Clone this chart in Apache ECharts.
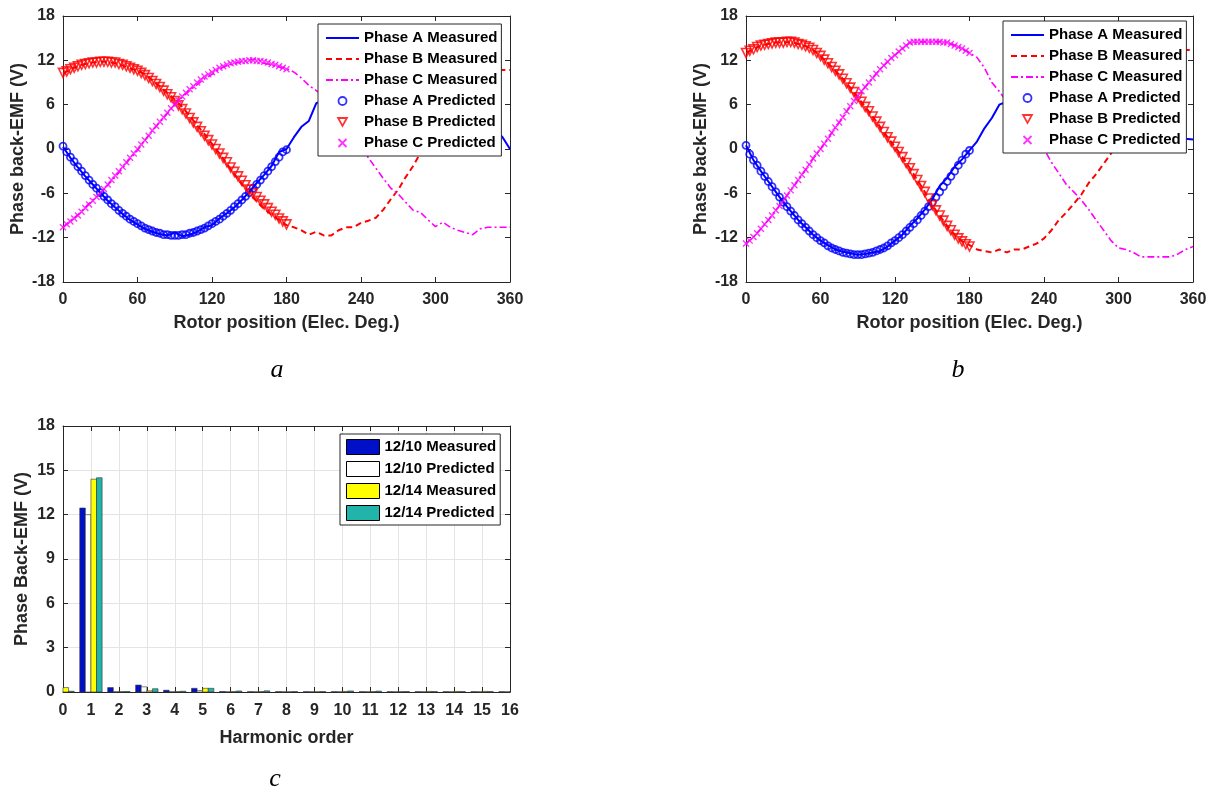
<!DOCTYPE html>
<html>
<head>
<meta charset="utf-8">
<script src="https://cdn.jsdelivr.net/npm/echarts@6/dist/echarts.min.js"></script>
<style>
  html, body { margin: 0; padding: 0; background: #fff; }
  #chart { width: 1215px; height: 792px; }
</style>
</head>
<body>
<div id="chart"></div>
<script>
// rotor angle of the samples (elec. deg.)
var measDeg = [0, 6, 12, 18, 24, 30, 36, 42, 48, 54, 60, 66, 72, 78, 84, 90, 96, 102, 108, 114,
  120, 126, 132, 138, 144, 150, 156, 162, 168, 174, 180, 186, 192, 198, 204, 210, 216, 222, 228, 234,
  240, 246, 252, 258, 264, 270, 276, 282, 288, 294, 300, 306, 312, 318, 324, 330, 336, 342, 348, 354, 360];
var predDeg = [0, 3, 6, 9, 12, 15, 18, 21, 24, 27, 30, 33, 36, 39, 42, 45, 48, 51, 54, 57,
  60, 63, 66, 69, 72, 75, 78, 81, 84, 87, 90, 93, 96, 99, 102, 105, 108, 111, 114, 117,
  120, 123, 126, 129, 132, 135, 138, 141, 144, 147, 150, 153, 156, 159, 162, 165, 168, 171, 174, 177, 180];

// (a) measured
var aMeasA = [0.3, -1.2, -2.5, -3.7, -4.8, -5.9, -7.0, -7.9, -8.8, -9.6,
  -10.2, -10.8, -11.2, -11.5, -11.7, -11.3, -11.8, -11.6, -11.2, -10.6,
  -10.3, -9.4, -8.7, -7.9, -6.9, -5.8, -4.6, -3.5, -2.3, -0.4,
  0.0, 1.6, 3.0, 3.8, 6.2, 6.6, 7.4, 8.5, 9.3, 9.9,
  10.5, 11.0, 11.4, 11.6, 11.8, 11.8, 11.7, 11.5, 11.2, 10.8,
  10.2, 9.5, 8.7, 7.8, 6.9, 5.9, 4.8, 3.6, 2.6, 1.6, 0.0];
var aMeasB = [10.2, 10.8, 11.2, 11.5, 11.7, 11.8, 11.8, 11.6, 11.3, 10.9,
  10.6, 10.1, 9.3, 8.5, 7.6, 6.7, 5.7, 4.5, 3.2, 2.0,
  0.7, -0.6, -2.0, -3.4, -4.8, -6.0, -7.1, -8.1, -8.9, -9.6,
  -10.3, -10.6, -11.0, -11.6, -11.2, -11.7, -11.7, -11.0, -10.6, -10.6,
  -10.0, -9.7, -9.3, -8.2, -6.8, -5.5, -3.8, -2.3, -0.5, 1.4,
  3.0, 4.8, 6.2, 7.5, 8.6, 9.4, 10.0, 10.4, 10.6, 10.7, 10.7];
var aMeasC = [-10.6, -9.7, -8.9, -7.9, -6.9, -6.0, -4.9, -3.8, -2.6, -1.3,
  -0.2, 1.2, 2.5, 3.6, 4.8, 6.0, 7.0, 7.9, 8.7, 9.5,
  10.1, 10.8, 11.3, 11.6, 11.8, 12.0, 12.2, 11.6, 11.4, 11.1,
  10.9, 10.4, 9.6, 8.6, 7.9, 7.2, 6.0, 4.8, 3.5, 2.0,
  0.4, -1.2, -2.6, -4.0, -5.3, -6.1, -7.2, -8.3, -8.6, -9.6,
  -10.5, -9.9, -10.6, -11.0, -11.3, -11.6, -10.8, -10.6, -10.6, -10.6, -10.6];
// (a) predicted
var aPredA = [0.4, -0.4, -1.1, -1.7, -2.4, -3.0, -3.6, -4.2, -4.8, -5.3,
  -5.9, -6.4, -6.9, -7.4, -7.8, -8.3, -8.7, -9.1, -9.5, -9.8,
  -10.1, -10.4, -10.7, -10.9, -11.1, -11.3, -11.4, -11.6, -11.6, -11.7,
  -11.7, -11.7, -11.6, -11.6, -11.4, -11.3, -11.1, -10.9, -10.7, -10.4,
  -10.1, -9.8, -9.5, -9.1, -8.7, -8.3, -7.8, -7.4, -6.9, -6.4,
  -5.9, -5.3, -4.8, -4.2, -3.6, -3.0, -2.4, -1.7, -1.1, -0.4, -0.1];
var aPredB = [10.3, 10.5, 10.8, 11.0, 11.2, 11.4, 11.5, 11.6, 11.7, 11.7,
  11.8, 11.8, 11.8, 11.7, 11.7, 11.5, 11.4, 11.2, 11.0, 10.8,
  10.6, 10.3, 10.0, 9.6, 9.2, 8.8, 8.4, 7.9, 7.4, 7.0,
  6.5, 5.9, 5.4, 4.8, 4.2, 3.6, 3.0, 2.4, 1.8, 1.2,
  0.6, 0.0, -0.6, -1.2, -1.8, -2.5, -3.1, -3.7, -4.3, -4.9,
  -5.5, -6.0, -6.5, -7.0, -7.5, -8.0, -8.5, -8.9, -9.4, -9.8, -10.2];
var aPredC = [-10.6, -10.2, -9.8, -9.4, -9.0, -8.5, -8.0, -7.5, -7.0, -6.5,
  -6.0, -5.4, -4.8, -4.2, -3.6, -3.0, -2.4, -1.8, -1.2, -0.6,
  0.0, 0.6, 1.2, 1.8, 2.5, 3.1, 3.7, 4.3, 4.9, 5.5,
  6.0, 6.6, 7.1, 7.6, 8.1, 8.5, 9.0, 9.4, 9.8, 10.1,
  10.4, 10.7, 11.0, 11.2, 11.4, 11.6, 11.7, 11.8, 11.9, 11.9,
  12.0, 12.0, 11.9, 11.9, 11.8, 11.7, 11.5, 11.4, 11.2, 11.0, 10.8];

// (b) measured
var bMeasA = [0.5, -1.5, -3.0, -4.4, -5.8, -7.2, -8.4, -9.6, -10.6, -11.6,
  -12.4, -13.0, -13.6, -13.9, -14.1, -14.3, -14.2, -14.0, -13.8, -13.2,
  -12.4, -11.6, -10.4, -9.4, -8.2, -6.8, -5.0, -3.9, -2.4, -1.4,
  -0.2, 1.0, 2.8, 4.2, 6.0, 6.4, 8.0, 9.4, 10.6, 11.6,
  12.4, 13.1, 13.6, 14.0, 14.2, 14.3, 14.2, 14.0, 13.6, 13.1,
  12.4, 11.6, 10.6, 9.4, 8.0, 6.5, 5.0, 3.6, 2.4, 1.4, 1.3];
var bMeasB = [13.0, 13.5, 14.0, 14.2, 14.4, 14.4, 14.5, 14.2, 13.9, 13.4,
  12.6, 11.6, 10.6, 9.5, 8.3, 7.0, 5.7, 4.4, 3.0, 1.6,
  0.3, -1.1, -2.6, -4.2, -5.8, -7.6, -9.0, -10.4, -11.6, -12.5,
  -13.0, -13.6, -13.8, -14.0, -13.6, -14.0, -13.6, -13.6, -13.2, -12.8,
  -12.1, -11.0, -9.6, -8.6, -7.4, -6.2, -4.6, -3.4, -2.0, -0.6,
  1.0, 3.0, 5.0, 7.0, 8.8, 10.2, 11.4, 12.4, 13.0, 13.4, 13.4];
var bMeasC = [-12.8, -11.9, -10.8, -9.6, -8.3, -7.0, -5.6, -4.2, -2.8, -1.3,
  0.0, 1.4, 2.9, 4.3, 5.8, 7.2, 8.4, 9.6, 10.8, 11.8,
  12.7, 13.6, 14.4, 14.5, 14.5, 14.5, 14.5, 14.4, 14.0, 13.6,
  13.0, 12.4, 11.0, 9.0, 7.8, 6.4, 5.0, 3.6, 2.4, 1.2,
  0.0, -1.8, -3.3, -4.8, -5.8, -6.9, -8.2, -9.6, -11.0, -12.4,
  -13.4, -13.6, -14.0, -14.6, -14.6, -14.6, -14.6, -14.6, -14.2, -13.6, -13.2];
// (b) predicted
var bPredA = [0.5, -0.7, -1.5, -2.2, -3.0, -3.7, -4.4, -5.1, -5.8, -6.5,
  -7.2, -7.8, -8.4, -9.0, -9.6, -10.1, -10.6, -11.1, -11.6, -12.0,
  -12.4, -12.7, -13.1, -13.4, -13.6, -13.8, -14.0, -14.1, -14.2, -14.3,
  -14.3, -14.3, -14.2, -14.1, -14.0, -13.8, -13.6, -13.4, -13.1, -12.7,
  -12.4, -12.0, -11.6, -11.1, -10.6, -10.1, -9.6, -9.0, -8.4, -7.8,
  -7.2, -6.5, -5.8, -5.1, -4.4, -3.7, -3.0, -2.2, -1.5, -0.7, -0.2];
var bPredB = [13.0, 13.3, 13.5, 13.8, 14.0, 14.1, 14.2, 14.3, 14.4, 14.4,
  14.4, 14.5, 14.5, 14.4, 14.2, 14.1, 13.9, 13.7, 13.4, 13.0,
  12.6, 12.1, 11.6, 11.1, 10.6, 10.1, 9.5, 8.9, 8.3, 7.7,
  7.0, 6.4, 5.7, 5.1, 4.4, 3.7, 3.0, 2.3, 1.6, 1.0,
  0.3, -0.4, -1.1, -1.9, -2.6, -3.4, -4.2, -5.0, -5.8, -6.7,
  -7.6, -8.3, -9.0, -9.7, -10.4, -11.0, -11.6, -12.1, -12.5, -12.9, -13.2];
var bPredC = [-12.8, -12.4, -11.9, -11.4, -10.8, -10.2, -9.6, -9.0, -8.3, -7.7,
  -7.0, -6.3, -5.6, -4.9, -4.2, -3.5, -2.8, -2.1, -1.3, -0.6,
  0.0, 0.7, 1.4, 2.2, 2.9, 3.6, 4.3, 5.1, 5.8, 6.5,
  7.2, 7.8, 8.4, 9.0, 9.6, 10.2, 10.8, 11.3, 11.8, 12.3,
  12.7, 13.2, 13.6, 14.0, 14.4, 14.5, 14.5, 14.5, 14.5, 14.5,
  14.5, 14.5, 14.5, 14.4, 14.4, 14.2, 14.0, 13.8, 13.6, 13.3, 13.0];

// (c) harmonic spectrum
var harmonics = [0, 1, 2, 3, 4, 5, 6, 7, 8, 9, 10, 11, 12, 13, 14, 15, 16];
var meas1210 = [0.02, 12.45, 0.3, 0.47, 0.12, 0.25, 0.03, 0.02, 0.02, 0.02, 0.02, 0.02, 0.02, 0.02, 0.02, 0.02, 0.02];
var pred1210 = [0.02, 12.0, 0.02, 0.35, 0.02, 0.1, 0.02, 0.02, 0.02, 0.02, 0.02, 0.02, 0.02, 0.02, 0.02, 0.02, 0.02];
var meas1214 = [0.3, 14.4, 0.03, 0.08, 0.03, 0.25, 0.03, 0.03, 0.02, 0.02, 0.04, 0.03, 0.03, 0.04, 0.04, 0.04, 0.04];
var pred1214 = [0.05, 14.5, 0.03, 0.22, 0.05, 0.25, 0.07, 0.08, 0.03, 0.03, 0.07, 0.06, 0.03, 0.03, 0.03, 0.03, 0.03];

var phaseNames = ['Phase A Measured', 'Phase B Measured', 'Phase C Measured',
  'Phase A Predicted', 'Phase B Predicted', 'Phase C Predicted'];
var barNames = ['12/10 Measured', '12/10 Predicted', '12/14 Measured', '12/14 Predicted'];

var FONT = '"Liberation Sans", Arial, Helvetica, sans-serif';
var AX = '#262626';
var BLUE = '#0000ff', RED = '#ff0000', MAG = '#ff00ff';
var TRI_DOWN = 'path://M0,0L10,0L5,9Z';
var CROSS = 'path://M0,0L10,10M10,0L0,10';

function pairs(xs, ys) {
  return xs.map(function (x, i) { return [x, ys[i]]; });
}

// bottom + top x axis (top one only for the box and the inner ticks)
function xPair(grid, min, max, interval, name, gap, split, margin) {
  var line = { show: true, onZero: false, lineStyle: { color: AX, width: 1 } };
  var tick = { show: true, inside: true, length: 5, lineStyle: { color: AX } };
  return [{
    type: 'value', gridIndex: grid, position: 'bottom', min: min, max: max, interval: interval,
    name: name, nameLocation: 'middle', nameGap: gap,
    nameTextStyle: { fontFamily: FONT, fontWeight: 'bold', fontSize: 18, color: AX },
    axisLine: line, axisTick: tick,
    axisLabel: { fontFamily: FONT, fontWeight: 'bold', fontSize: 16, color: AX, margin: margin },
    splitLine: { show: split, lineStyle: { color: '#e4e4e4' } }
  }, {
    type: 'value', gridIndex: grid, position: 'top', min: min, max: max, interval: interval,
    axisLine: line, axisTick: tick, axisLabel: { show: false }, splitLine: { show: false }
  }];
}

function yPair(grid, min, max, interval, name, gap, split) {
  var line = { show: true, onZero: false, lineStyle: { color: AX, width: 1 } };
  var tick = { show: true, inside: true, length: 5, lineStyle: { color: AX } };
  return [{
    type: 'value', gridIndex: grid, position: 'left', min: min, max: max, interval: interval,
    name: name, nameLocation: 'middle', nameGap: gap,
    nameTextStyle: { fontFamily: FONT, fontWeight: 'bold', fontSize: 18, color: AX },
    axisLine: line, axisTick: tick,
    axisLabel: { fontFamily: FONT, fontWeight: 'bold', fontSize: 16, color: AX, margin: 8 },
    splitLine: { show: split, lineStyle: { color: '#e4e4e4' } }
  }, {
    type: 'value', gridIndex: grid, position: 'right', min: min, max: max, interval: interval,
    axisLine: line, axisTick: tick, axisLabel: { show: false }, splitLine: { show: false }
  }];
}

// the six traces of one back-EMF plot
function phaseSeries(ax, mA, mB, mC, pA, pB, pC) {
  return [
    { name: phaseNames[0], type: 'line', xAxisIndex: ax, yAxisIndex: ax, data: pairs(measDeg, mA),
      symbol: 'none', lineStyle: { color: BLUE, width: 2 }, itemStyle: { color: BLUE } },
    { name: phaseNames[1], type: 'line', xAxisIndex: ax, yAxisIndex: ax, data: pairs(measDeg, mB),
      symbol: 'none', lineStyle: { color: RED, width: 2, type: [6, 4] }, itemStyle: { color: RED } },
    { name: phaseNames[2], type: 'line', xAxisIndex: ax, yAxisIndex: ax, data: pairs(measDeg, mC),
      symbol: 'none', lineStyle: { color: MAG, width: 1.6, type: [7, 3, 2, 3] }, itemStyle: { color: MAG } },
    { name: phaseNames[3], type: 'scatter', xAxisIndex: ax, yAxisIndex: ax, data: pairs(predDeg, pA),
      symbol: 'circle', symbolSize: 7,
      itemStyle: { color: 'rgba(0,0,0,0)', borderColor: BLUE, borderWidth: 1.8 } },
    { name: phaseNames[4], type: 'scatter', xAxisIndex: ax, yAxisIndex: ax, data: pairs(predDeg, pB),
      symbol: TRI_DOWN, symbolSize: 9,
      itemStyle: { color: 'rgba(0,0,0,0)', borderColor: RED, borderWidth: 1.6 } },
    { name: phaseNames[5], type: 'scatter', xAxisIndex: ax, yAxisIndex: ax, data: pairs(predDeg, pC),
      symbol: CROSS, symbolSize: 6,
      itemStyle: { color: 'rgba(0,0,0,0)', borderColor: MAG, borderWidth: 1.4 } }
  ];
}

function phaseLegend(left, top) {
  // measured entries: line only, no dot in the middle
  var items = phaseNames.map(function (nm, i) {
    return i < 3 ? { name: nm, itemStyle: { color: 'rgba(0,0,0,0)', borderWidth: 0 } } : { name: nm };
  });
  return {
    data: items, orient: 'vertical', left: left, top: top, selectedMode: false,
    padding: [6, 4, 5, 7], itemWidth: 33, itemHeight: 8, itemGap: 5,
    backgroundColor: '#fff', borderColor: AX, borderWidth: 1, borderRadius: 0,
    itemStyle: { borderWidth: 1.8 },
    textStyle: { fontFamily: FONT, fontWeight: 'bold', fontSize: 15, color: '#000', lineHeight: 16 }
  };
}

// grouped bars, clipped to the plot box
var barColors = ['#0010c8', '#ffffff', '#ffff00', '#22b3aa'];
var barData = [meas1210, pred1210, meas1214, pred1214];
function barRender(slot) {
  return function (params, api) {
    var x = api.value(0);
    var base = api.coord([x, 0]);
    var top = api.coord([x, api.value(1)]);
    var bw = api.size([1, 0])[0] * 0.2;
    var rect = echarts.graphic.clipRectByRect({
      x: base[0] + (slot - 2) * bw, y: top[1], width: bw, height: base[1] - top[1]
    }, {
      x: params.coordSys.x, y: params.coordSys.y,
      width: params.coordSys.width, height: params.coordSys.height
    });
    return rect && { type: 'rect', shape: rect, style: api.style() };
  };
}
var barSeries = barNames.map(function (nm, i) {
  return {
    name: nm, type: 'custom', xAxisIndex: 4, yAxisIndex: 4,
    data: pairs(harmonics, barData[i]), renderItem: barRender(i),
    encode: { x: 0, y: 1 },
    itemStyle: { color: barColors[i], borderColor: '#333', borderWidth: 0.6 }
  };
});

function letter(t, x, y) {
  return {
    type: 'text', x: x, y: y,
    style: { text: t, font: 'italic 26px "Liberation Serif", "Times New Roman", serif',
      fill: '#000', align: 'center', verticalAlign: 'middle' }
  };
}

var option = {
  animation: false,
  backgroundColor: '#fff',
  grid: [
    { left: 63, top: 16, width: 447, height: 266 },
    { left: 746, top: 16, width: 447, height: 266 },
    { left: 63, top: 426, width: 447, height: 266 }
  ],
  xAxis: [].concat(
    xPair(0, 0, 360, 60, 'Rotor position (Elec. Deg.)', 32, false, 10),
    xPair(1, 0, 360, 60, 'Rotor position (Elec. Deg.)', 32, false, 10),
    xPair(2, 0, 16, 1, 'Harmonic order', 37, true, 11)
  ),
  yAxis: [].concat(
    yPair(0, -18, 18, 6, 'Phase back-EMF (V)', 36, false),
    yPair(1, -18, 18, 6, 'Phase back-EMF (V)', 36, false),
    yPair(2, 0, 18, 3, 'Phase Back-EMF (V)', 32, true)
  ),
  legend: [
    phaseLegend(318, 24),
    phaseLegend(1003, 21),
    {
      data: barNames, orient: 'vertical', left: 340, top: 434, selectedMode: false,
      icon: 'rect', padding: [5, 4, 4, 6], itemWidth: 33, itemHeight: 15, itemGap: 6,
      backgroundColor: '#fff', borderColor: AX, borderWidth: 1, borderRadius: 0,
      itemStyle: { borderColor: '#000', borderWidth: 1 },
      textStyle: { fontFamily: FONT, fontWeight: 'bold', fontSize: 15, color: '#000', lineHeight: 16 }
    }
  ],
  series: [].concat(
    phaseSeries(0, aMeasA, aMeasB, aMeasC, aPredA, aPredB, aPredC),
    phaseSeries(2, bMeasA, bMeasB, bMeasC, bPredA, bPredB, bPredC),
    barSeries
  ),
  graphic: [letter('a', 277, 370), letter('b', 958, 370), letter('c', 275, 779)]
};

var chart = echarts.init(document.getElementById('chart'), null, { renderer: 'canvas' });
chart.setOption(option);
</script>
</body>
</html>
